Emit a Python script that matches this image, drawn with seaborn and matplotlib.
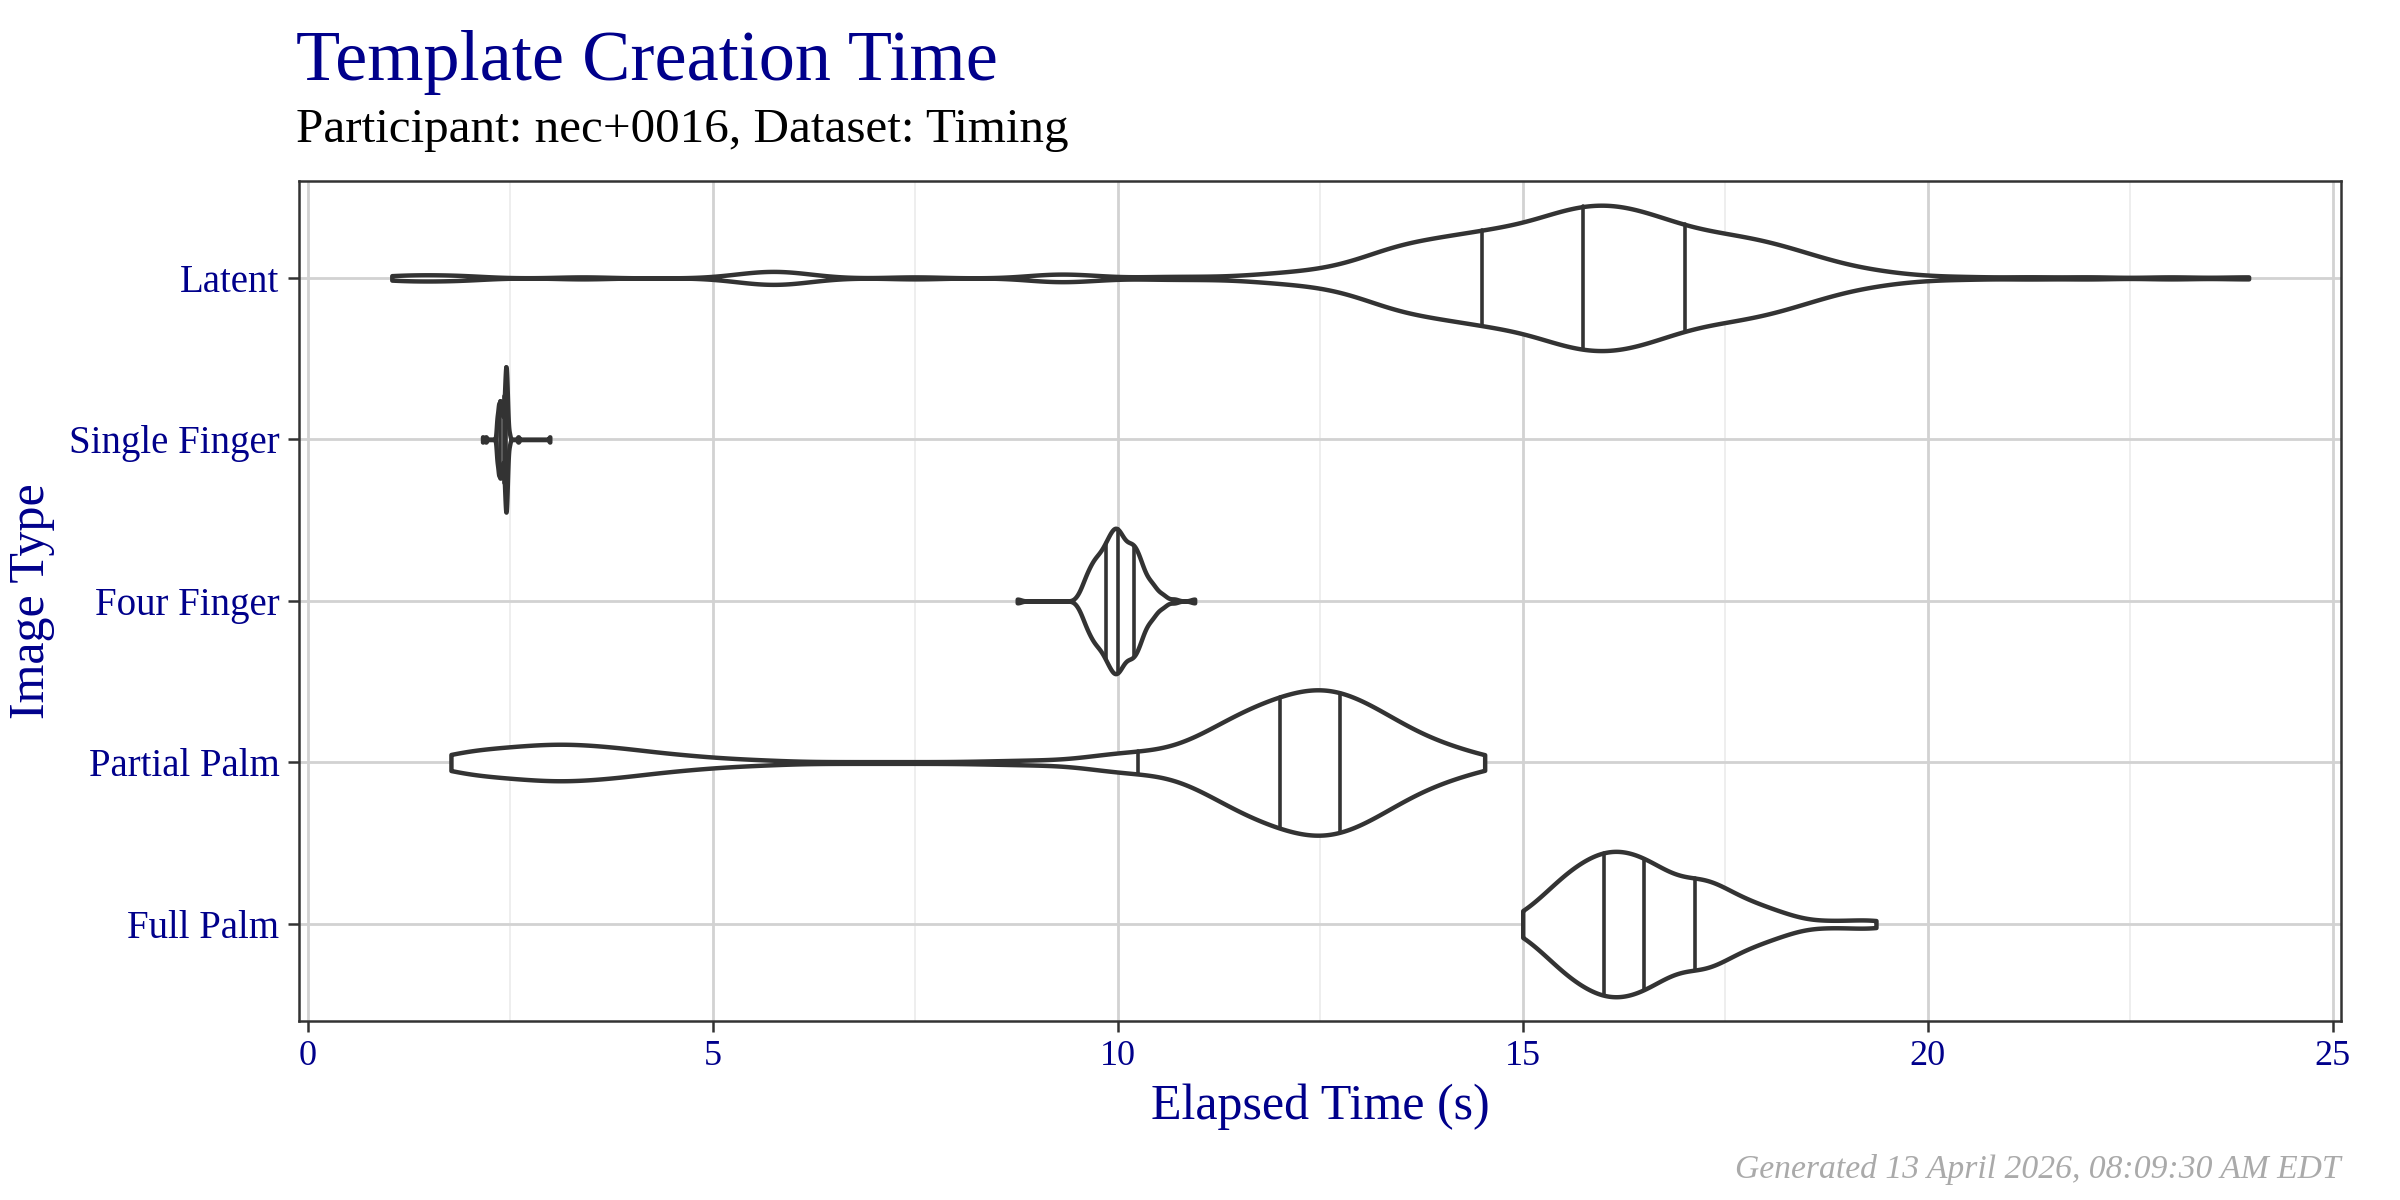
"""Template creation time violins (nec+0016, Timing dataset)."""

import numpy as np
import pandas as pd
import matplotlib
matplotlib.use("Agg")
import matplotlib.pyplot as plt
from matplotlib.ticker import MultipleLocator
import seaborn as sns


CATEGORIES = ["Latent", "Single Finger", "Four Finger", "Partial Palm", "Full Palm"]

# elapsed times (s) and how many templates took about that long
LATENT_TIMES = [1.04, 1.25, 1.5, 1.75, 2.0, 3.4, 5.25, 5.5, 5.75, 6.0, 6.25, 7.5,
                9.0, 9.25, 9.5, 9.75, 10.5, 11.0,
                11.5, 11.75, 12.0, 12.25, 12.5, 12.75, 13.0, 13.25, 13.5, 13.75,
                14.0, 14.25, 14.5, 14.75, 15.0, 15.25, 15.5, 15.75, 16.0, 16.25,
                16.5, 16.75, 17.0, 17.25, 17.5, 17.75, 18.0, 18.25, 18.5, 18.75,
                19.0, 19.25, 19.5, 19.75, 20.0,
                20.5, 21.25, 22.0, 23.0, 23.96]
LATENT_COUNTS = [1, 1, 1, 1, 1, 1, 1, 2, 3, 2, 1, 1,
                 1, 2, 1, 1, 1, 1,
                 1, 1, 2, 2, 3, 4, 6, 9, 11, 12,
                 13, 14, 15, 16, 17, 19, 22, 23, 24, 23,
                 21, 19, 16, 15, 14, 13, 12, 10, 8, 6,
                 4, 3, 2, 1, 1,
                 1, 1, 1, 1, 1]

SINGLE_TIMES = [2.16, 2.20, 2.34, 2.36, 2.38, 2.40, 2.42, 2.43, 2.44, 2.45,
                2.46, 2.47, 2.49, 2.60, 2.99]
SINGLE_COUNTS = [1, 1, 7, 11, 12, 9, 4, 6, 10, 14,
                 10, 5, 2, 1, 1]

FOUR_TIMES = [8.76, 9.5, 9.55, 9.6, 9.65, 9.7, 9.75, 9.8, 9.85, 9.9, 9.95,
              10.0, 10.05, 10.1, 10.15, 10.2, 10.25, 10.3, 10.35, 10.4, 10.45,
              10.5, 10.55, 10.6, 10.7, 10.95]
FOUR_COUNTS = [1, 1, 3, 6, 8, 10, 11, 12, 14, 16, 18,
               18, 16, 14, 14, 14, 12, 9, 6, 5, 4,
               2, 2, 1, 1, 1]

PARTIAL_TIMES = [1.77, 2.0, 2.25, 2.5, 2.75, 3.0, 3.25, 3.5, 3.75, 4.0, 4.25,
                 4.5, 4.75, 5.0, 5.25, 5.5, 5.75, 6.0, 6.5, 7.0, 7.5, 8.0,
                 8.5, 9.0, 9.5, 9.75, 10.0, 10.25,
                 10.5, 10.75, 11.0, 11.25, 11.5, 11.75, 12.0, 12.25, 12.5,
                 12.75, 13.0, 13.25, 13.5, 13.75, 14.0, 14.25, 14.53]
PARTIAL_COUNTS = [6, 7, 8, 9, 10, 11, 11, 10, 9, 8, 6,
                  5, 4, 3, 2, 2, 1, 1, 1, 1, 1, 1,
                  2, 3, 3, 4, 6, 7,
                  6, 9, 15, 22, 29, 34, 38, 42, 45,
                  42, 37, 30, 22, 16, 11, 8, 5]

FULL_TIMES = [15.0, 15.25, 15.5, 15.75, 16.0, 16.25, 16.5, 16.75, 17.0, 17.25,
              17.5, 17.75, 18.0, 18.25, 18.5, 18.75, 19.0, 19.25, 19.36]
FULL_COUNTS = [3, 8, 14, 18, 21, 21, 19, 15, 12, 14,
               10, 7, 5, 3, 1, 1, 1, 1, 1]

# kde bandwidth in seconds for each image type
BANDWIDTH = [0.32, 0.010, 0.045, 0.33, 0.22]

NAVY = "#00008B"
INK = "#333333"


def build_frame():
    groups = [(LATENT_TIMES, LATENT_COUNTS), (SINGLE_TIMES, SINGLE_COUNTS),
              (FOUR_TIMES, FOUR_COUNTS), (PARTIAL_TIMES, PARTIAL_COUNTS),
              (FULL_TIMES, FULL_COUNTS)]
    frames = []
    for cat, (times, counts) in zip(CATEGORIES, groups):
        vals = np.repeat(times, counts)
        frames.append(pd.DataFrame({"Image Type": cat, "Elapsed Time (s)": vals}))
    return pd.concat(frames, ignore_index=True)


sns.set_theme(style="white")
plt.rcParams["font.family"] = ["Liberation Serif", "DejaVu Serif"]

df = build_frame()

fig = plt.figure(figsize=(12, 6), dpi=200)
ax = fig.add_axes([0.1246, 0.1492, 0.8508, 0.7000])

for cat, bw in zip(CATEGORIES, BANDWIDTH):
    sub = df[df["Image Type"] == cat]
    sd = sub["Elapsed Time (s)"].std(ddof=1)
    sns.violinplot(data=sub, x="Elapsed Time (s)", y="Image Type", order=CATEGORIES,
                   orient="h", color="white", saturation=1, linecolor=INK,
                   linewidth=1.6, inner="quart", cut=0, gridsize=600,
                   bw_method=bw / sd, density_norm="width", width=0.9, ax=ax)

# ggplot-style solid quantile lines
for line in ax.lines:
    line.set_linestyle("-")
    line.set_linewidth(1.3)
    line.set_color(INK)

ax.set_xlim(-0.105, 25.10)
ax.set_ylim(4.6, -0.6)
ax.set_xticks([0, 5, 10, 15, 20, 25])
ax.xaxis.set_minor_locator(MultipleLocator(2.5))
ax.set_axisbelow(True)
ax.grid(which="major", axis="both", color="#D2D2D2", linewidth=1.0)
ax.grid(which="minor", axis="x", color="#EBEBEB", linewidth=0.6)

for side in ax.spines.values():
    side.set_visible(True)
    side.set_color(INK)
    side.set_linewidth(0.9)

ax.tick_params(axis="both", which="major", length=4, width=0.9, color=INK,
               labelcolor=NAVY, bottom=True, left=True)
ax.tick_params(axis="x", which="major", labelsize=13, pad=3)
ax.tick_params(axis="y", which="major", labelsize=14, pad=3)
ax.tick_params(which="minor", length=0)

ax.set_xlabel("Elapsed Time (s)", fontsize=18, color=NAVY)
ax.xaxis.label.set_verticalalignment("baseline")
ax.xaxis.set_label_coords(0.5, -0.1167)
ax.set_ylabel("Image Type", fontsize=18, color=NAVY)
ax.yaxis.label.set_verticalalignment("center")
ax.yaxis.set_label_coords(-0.131, 0.5)

fig.text(0.1233, 0.9333, "Template Creation Time", fontsize=26, color=NAVY,
         ha="left", va="baseline")
fig.text(0.1233, 0.882, "Participant: nec+0016, Dataset: Timing", fontsize=17.7,
         color="black", ha="left", va="baseline")
fig.text(0.9754, 0.018, "Generated 13 April 2026, 08:09:30 AM EDT", fontsize=12.1,
         color="#AAAAAA", style="italic", ha="right", va="baseline")

fig.savefig("out.png", dpi=200, facecolor="white")
